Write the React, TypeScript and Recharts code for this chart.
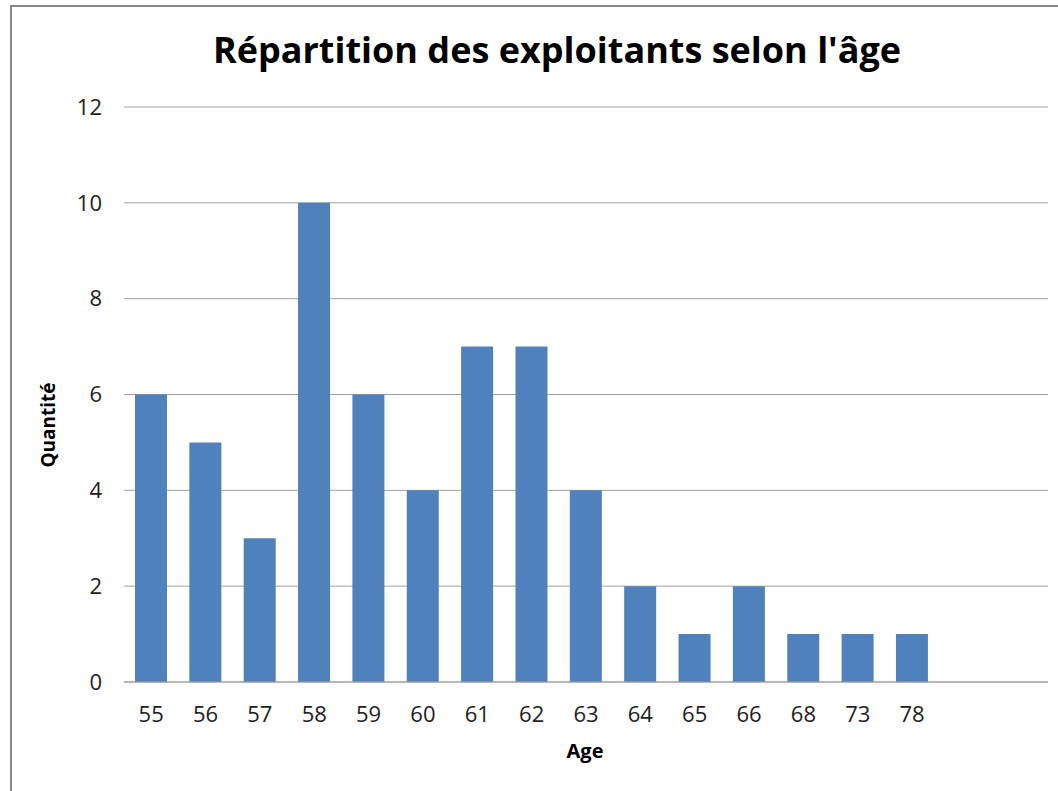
import React from 'react';
import { BarChart, Bar, XAxis, YAxis, CartesianGrid } from 'recharts';

const ages: string[] = ['55', '56', '57', '58', '59', '60', '61', '62', '63', '64', '65', '66', '68', '73', '78', '', ' '];
const counts: (number | null)[] = [6, 5, 3, 10, 6, 4, 7, 7, 4, 2, 1, 2, 1, 1, 1, null, null];
const yTicks: number[] = [0, 2, 4, 6, 8, 10, 12];

const title = "Répartition des exploitants selon l'âge";
const xTitle = 'Age';
const yTitle = 'Quantité';

const data = ages.map((a, i) => ({ age: a, qty: counts[i] }));

const FONT = '"Open Sans", Calibri, sans-serif';

export default function App() {
  return (
    <div style={{ position: 'absolute', left: 0, top: 0, width: 1058, height: 791, overflow: 'hidden', background: '#fff' }}>
      <div style={{ position: 'absolute', left: 10, top: 5, width: 1200, height: 900, border: '2px solid #888', boxSizing: 'border-box' }} />
      <div style={{ position: 'absolute', left: 0, top: 0 }}>
        <BarChart width={1058} height={791} data={data} margin={{ top: 107, right: 10, bottom: 49, left: 64 }}>
          <CartesianGrid vertical={false} stroke="#a0a0a0" strokeWidth={1} />
          <XAxis
            dataKey="age"
            tickLine={false}
            axisLine={{ stroke: '#a0a0a0' }}
            tickSize={0}
            tickMargin={24}
            tick={{ fill: '#222', fontSize: 22, fontFamily: FONT }}
            interval={0}
            height={60}
          />
          <YAxis
            domain={[0, 12]}
            ticks={yTicks}
            width={60}
            axisLine={false}
            tickLine={false}
            tickSize={0}
            tickMargin={22}
            tick={{ fill: '#222', fontSize: 22, fontFamily: FONT }}
          />
          <Bar dataKey="qty" fill="#4f81bd" barSize={32} isAnimationActive={false} />
        </BarChart>
      </div>
      <svg width={1058} height={791} style={{ position: 'absolute', left: 0, top: 0, pointerEvents: 'none' }}>
        <text x={557} y={63} textAnchor="middle" fontFamily={FONT} fontWeight="bold" fontSize={36} fill="#000">{title}</text>
        <text x={585} y={758} textAnchor="middle" fontFamily={FONT} fontWeight="bold" fontSize={20} fill="#000">{xTitle}</text>
        <text x={0} y={0} transform="translate(55,425) rotate(-90)" textAnchor="middle" fontFamily={FONT} fontWeight="bold" fontSize={19} fill="#000">{yTitle}</text>
      </svg>
    </div>
  );
}
